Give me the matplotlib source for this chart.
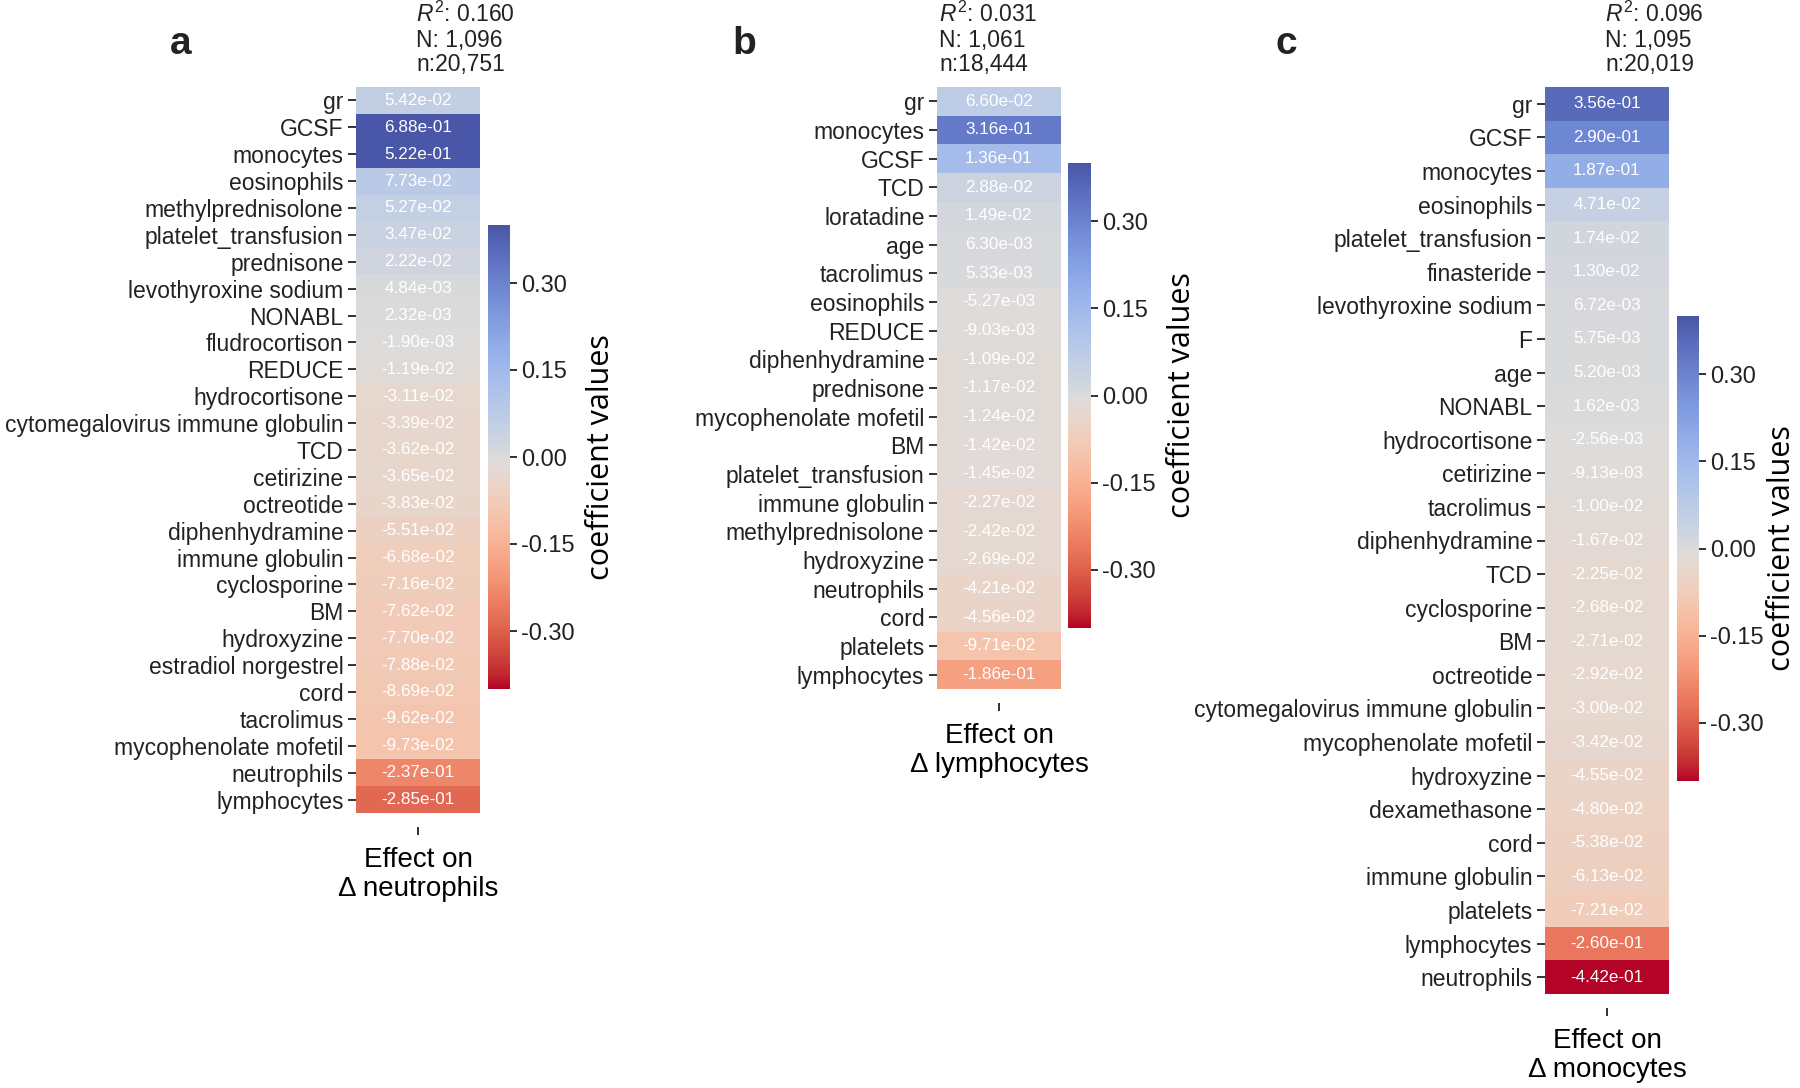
import numpy as np
import matplotlib
matplotlib.use('Agg')
import matplotlib.pyplot as plt
from matplotlib.colors import ListedColormap, rgb_to_hsv, hsv_to_rgb

# values (top row first)
labels_a = ['gr', 'GCSF', 'monocytes', 'eosinophils', 'methylprednisolone',
            'platelet_transfusion', 'prednisone', 'levothyroxine sodium', 'NONABL',
            'fludrocortison', 'REDUCE', 'hydrocortisone', 'cytomegalovirus immune globulin',
            'TCD', 'cetirizine', 'octreotide', 'diphenhydramine', 'immune globulin',
            'cyclosporine', 'BM', 'hydroxyzine', 'estradiol norgestrel', 'cord',
            'tacrolimus', 'mycophenolate mofetil', 'neutrophils', 'lymphocytes']
values_a = [5.42e-02, 6.88e-01, 5.22e-01, 7.73e-02, 5.27e-02, 3.47e-02, 2.22e-02,
            4.84e-03, 2.32e-03, -1.90e-03, -1.19e-02, -3.11e-02, -3.39e-02, -3.62e-02,
            -3.65e-02, -3.83e-02, -5.51e-02, -6.68e-02, -7.16e-02, -7.62e-02, -7.70e-02,
            -7.88e-02, -8.69e-02, -9.62e-02, -9.73e-02, -2.37e-01, -2.85e-01]

labels_b = ['gr', 'monocytes', 'GCSF', 'TCD', 'loratadine', 'age', 'tacrolimus',
            'eosinophils', 'REDUCE', 'diphenhydramine', 'prednisone',
            'mycophenolate mofetil', 'BM', 'platelet_transfusion', 'immune globulin',
            'methylprednisolone', 'hydroxyzine', 'neutrophils', 'cord', 'platelets',
            'lymphocytes']
values_b = [6.60e-02, 3.16e-01, 1.36e-01, 2.88e-02, 1.49e-02, 6.30e-03, 5.33e-03,
            -5.27e-03, -9.03e-03, -1.09e-02, -1.17e-02, -1.24e-02, -1.42e-02, -1.45e-02,
            -2.27e-02, -2.42e-02, -2.69e-02, -4.21e-02, -4.56e-02, -9.71e-02, -1.86e-01]

labels_c = ['gr', 'GCSF', 'monocytes', 'eosinophils', 'platelet_transfusion',
            'finasteride', 'levothyroxine sodium', 'F', 'age', 'NONABL', 'hydrocortisone',
            'cetirizine', 'tacrolimus', 'diphenhydramine', 'TCD', 'cyclosporine', 'BM',
            'octreotide', 'cytomegalovirus immune globulin', 'mycophenolate mofetil',
            'hydroxyzine', 'dexamethasone', 'cord', 'immune globulin', 'platelets',
            'lymphocytes', 'neutrophils']
values_c = [3.56e-01, 2.90e-01, 1.87e-01, 4.71e-02, 1.74e-02, 1.30e-02, 6.72e-03,
            5.75e-03, 5.20e-03, 1.62e-03, -2.56e-03, -9.13e-03, -1.00e-02, -1.67e-02,
            -2.25e-02, -2.68e-02, -2.71e-02, -2.92e-02, -3.00e-02, -3.42e-02, -4.55e-02,
            -4.80e-02, -5.38e-02, -6.13e-02, -7.21e-02, -2.60e-01, -4.42e-01]

stats_a = ['$R^2$: 0.160', 'N: 1,096', 'n:20,751']
stats_b = ['$R^2$: 0.031', 'N: 1,061', 'n:18,444']
stats_c = ['$R^2$: 0.096', 'N: 1,095', 'n:20,019']

targets = ['neutrophils', 'lymphocytes', 'monocytes']
cbar_ticks = [0.30, 0.15, 0.00, -0.15, -0.30]

W, H = 1800, 1088
plt.rcParams['font.family'] = ['Liberation Sans', 'DejaVu Sans']
plt.rcParams['mathtext.fontset'] = 'custom'
plt.rcParams['mathtext.rm'] = 'Liberation Sans'
plt.rcParams['mathtext.it'] = 'Liberation Sans:italic'
plt.rcParams['text.color'] = '#222222'
plt.rcParams['xtick.color'] = '#222222'
plt.rcParams['ytick.color'] = '#222222'


def muted_coolwarm():
    # coolwarm_r with the blue half a bit duller, like the printed figure
    x = np.linspace(0, 1, 256)
    rgb = plt.get_cmap('coolwarm_r')(x)[:, :3]
    hsv = rgb_to_hsv(rgb)
    w = np.sqrt(np.clip((x - 0.5) / 0.5, 0, 1))
    hsv[:, 1] *= 1 - 0.2 * w
    hsv[:, 2] *= 1 - 0.13 * w
    return ListedColormap(hsv_to_rgb(hsv))


CMAP = muted_coolwarm()


def px_rect(x0, y0, x1, y1):
    return [x0 / W, 1 - y1 / H, (x1 - x0) / W, (y1 - y0) / H]


def draw_panel(fig, letter, labels, values, stats, target, heat_px, cbar_px, letter_px,
               stats_x, cb_pad=8):
    ax = fig.add_axes(px_rect(*heat_px))
    data = np.array(values).reshape(-1, 1)
    im = ax.imshow(data, aspect='auto', cmap=CMAP, vmin=-0.4, vmax=0.4,
                   interpolation='nearest')
    for i, v in enumerate(values):
        ax.text(0, i, f'{v:.2e}', ha='center', va='center', color='white', fontsize=12.3)

    ax.set_yticks(range(len(labels)))
    ax.set_yticklabels(labels, fontsize=16.5)
    ax.set_xticks([0])
    ax.set_xticklabels([''])
    ax.tick_params(axis='y', length=6, width=1.3, pad=3)
    ax.tick_params(axis='x', length=6, width=1.3)
    for s in ax.spines.values():
        s.set_visible(False)
    ax.spines['bottom'].set_position(('outward', 10))
    ax.set_xlabel('Effect on\n\u0394 ' + target, fontsize=20, labelpad=5, linespacing=1.15)

    cax = fig.add_axes(px_rect(*cbar_px))
    cb = fig.colorbar(im, cax=cax, ticks=cbar_ticks, format='%.2f')
    cb.outline.set_visible(False)
    cax.tick_params(length=5, width=1.3, pad=3, labelsize=17)
    cb.set_label('coefficient values', fontsize=22, family=['Open Sans', 'DejaVu Sans'],
                 labelpad=cb_pad)

    fig.text(letter_px[0] / W, 1 - letter_px[1] / H, letter, fontsize=28,
             fontweight='bold', ha='center', va='center')
    for line, y in zip(stats, [14, 40, 64]):
        fig.text(stats_x / W, 1 - y / H, line, fontsize=16.5, ha='left', va='center')


fig = plt.figure(figsize=(18, 10.88), dpi=100)
draw_panel(fig, 'a', labels_a, values_a, stats_a, targets[0],
           (356, 87, 480, 813), (488, 225, 510, 689), (181, 44), 416)
draw_panel(fig, 'b', labels_b, values_b, stats_b, targets[1],
           (937, 87, 1061, 689), (1068, 163, 1091, 628), (744, 44), 939)
draw_panel(fig, 'c', labels_c, values_c, stats_c, targets[2],
           (1545, 87, 1669, 994), (1677, 316, 1699, 781), (1286, 44), 1605, cb_pad=2)

fig.savefig('out.png', dpi=100)
